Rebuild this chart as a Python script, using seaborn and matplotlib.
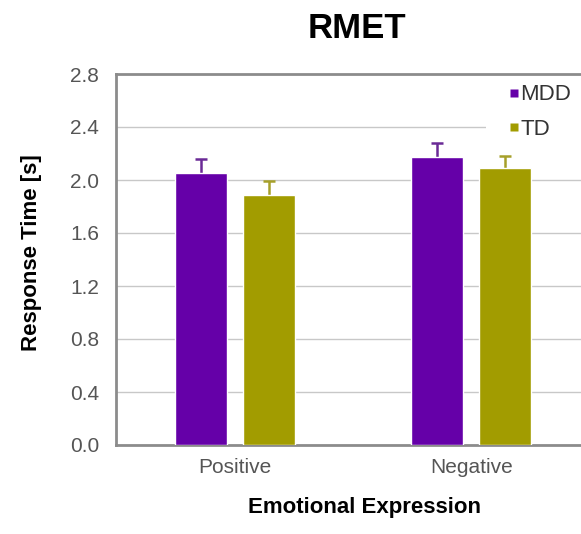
import matplotlib
matplotlib.use("Agg")
import matplotlib.pyplot as plt
from matplotlib.patches import Rectangle
from matplotlib.lines import Line2D
import seaborn as sns
import pandas as pd

# Mean response times (s) and standard errors per group
categories = ["Positive", "Negative"]
groups = ["MDD", "TD"]
mdd_rt = [2.05, 2.17]
td_rt = [1.89, 2.09]
mdd_err = [0.11, 0.11]
td_err = [0.10, 0.09]
y_ticks = [0.0, 0.4, 0.8, 1.2, 1.6, 2.0, 2.4, 2.8]

colors = {"MDD": "#6500a8", "TD": "#a29c00"}
err_colors = {"MDD": "#6a2a96", "TD": "#a6a02a"}

df = pd.DataFrame({
    "Expression": categories * 2,
    "Group": [groups[0]] * 2 + [groups[1]] * 2,
    "RT": mdd_rt + td_rt,
})
errs = {"MDD": mdd_err, "TD": td_err}

sns.set_theme(style="white")
plt.rcParams["font.family"] = ["Liberation Sans", "DejaVu Sans"]

W, H = 581, 534
fig = plt.figure(figsize=(W / 100, H / 100), dpi=100)
ax = fig.add_axes([116 / W, 1 - 445 / H, (590 - 116) / W, (445 - 74) / H])

sns.barplot(data=df, x="Expression", y="RT", hue="Group", order=categories,
            hue_order=groups, palette=colors, width=0.571, gap=0.228,
            saturation=1, errorbar=None, ax=ax, zorder=3, legend=False)

# Error bars sit behind the bars, so only the upper whisker shows
for cont, g in zip(ax.containers, groups):
    for patch, e in zip(cont.patches, errs[g]):
        x = patch.get_x() + patch.get_width() / 2
        h = patch.get_height()
        ax.errorbar(x, h, yerr=e, color=err_colors[g], capsize=4.5,
                    elinewidth=1.8, capthick=1.8, zorder=2)

ax.set_xlim(-0.503, 1.503)
ax.set_ylim(0, 2.8)
ax.set_yticks(y_ticks)
ax.set_yticklabels([f"{v:.1f}" for v in y_ticks])
ax.yaxis.grid(True, color="#c8c8c8", linewidth=1.0, zorder=0)
ax.set_axisbelow(True)

for side in ["left", "bottom", "top"]:
    ax.spines[side].set_color("#8c8c8c")
    ax.spines[side].set_linewidth(2.0)
ax.spines["right"].set_visible(False)

ax.tick_params(axis="both", length=0, labelsize=15, labelcolor="#555555")
ax.tick_params(axis="y", pad=12)
ax.tick_params(axis="x", pad=9.5)
ax.set_xlabel("")
ax.set_ylabel("")

# White backing behind the legend block
ax.add_patch(Rectangle((486 / W, 1 - 150 / H), (W - 486) / W, (150 - 76) / H,
                       transform=fig.transFigure, facecolor="white",
                       edgecolor="none", zorder=1))

handles = [Line2D([], [], linestyle="none", marker="s", markersize=6,
                  markerfacecolor=colors[g], markeredgecolor="none")
           for g in groups]
leg = ax.legend(handles, groups, loc="upper left",
                bbox_to_anchor=(505 / W, 1 - 80 / H),
                bbox_transform=fig.transFigure, borderaxespad=0,
                frameon=False, fontsize=16, handlelength=0.4,
                handletextpad=0.1, labelspacing=0.6, borderpad=0.2)
for t in leg.get_texts():
    t.set_color("#333333")

fig.text(357 / W, 1 - 29 / H, "RMET", ha="center", va="center",
         fontsize=25, fontweight="bold", color="black")
fig.text(364 / W, 1 - 507 / H, "Emotional Expression", ha="center", va="center",
         fontsize=16, fontweight="bold", color="black")
fig.text(32 / W, 1 - 253 / H, "Response Time [s]", ha="center", va="center",
         rotation=90, fontsize=16, fontweight="bold", color="black")

fig.savefig("out.png", dpi=100)
